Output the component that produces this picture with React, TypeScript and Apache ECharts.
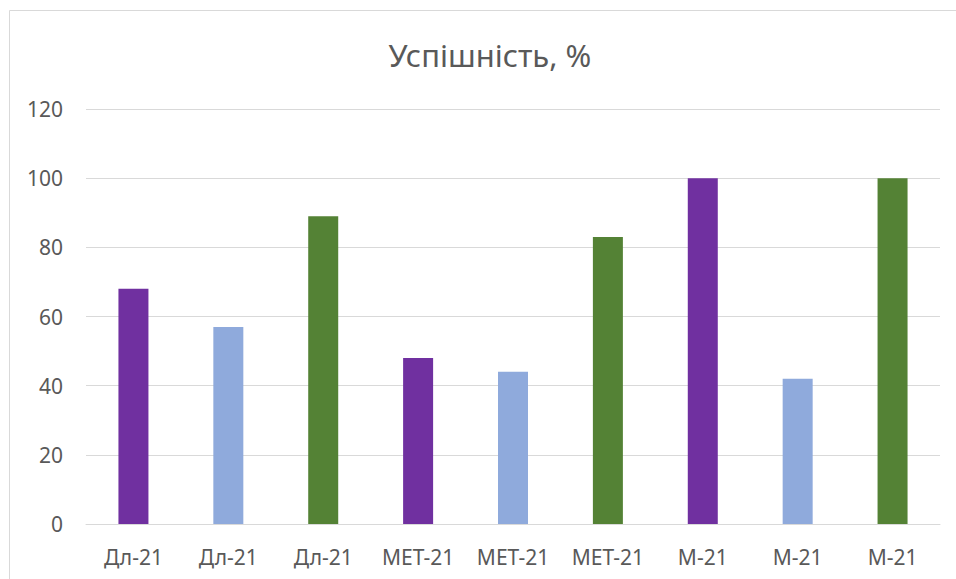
import React, { useEffect, useRef } from "react";
import * as echarts from "echarts";

const categories = ["Дл-21", "Дл-21", "Дл-21", "МЕТ-21", "МЕТ-21", "МЕТ-21", "М-21", "М-21", "М-21"];
const values = [68, 57, 89, 48, 44, 83, 100, 42, 100];
const barColors = ["#7030A0", "#8FAADC", "#548235", "#7030A0", "#8FAADC", "#548235", "#7030A0", "#8FAADC", "#548235"];
const title = "Успішність, %";

export default function App() {
  const ref = useRef<HTMLDivElement>(null);
  useEffect(() => {
    const chart = echarts.init(ref.current!, null, { renderer: "svg" });
    chart.setOption({
      animation: false,
      backgroundColor: "#ffffff",
      textStyle: { fontFamily: "Noto Sans" },
      graphic: [
        {
          type: "rect",
          shape: { x: 9.5, y: 10.5, width: 960, height: 600 },
          style: { fill: "none", stroke: "#d9d9d9", lineWidth: 1 },
          silent: true,
        },
        {
          type: "text",
          x: 490,
          y: 55,
          style: {
            text: title,
            align: "center",
            verticalAlign: "middle",
            fontSize: 31,
            fontFamily: "Noto Sans",
            fill: "#595959",
          },
          silent: true,
        },
      ],
      grid: { left: 86, right: 16, top: 109, bottom: 55, containLabel: false },
      xAxis: {
        type: "category",
        data: categories,
        axisLine: { lineStyle: { color: "#d9d9d9", width: 1 } },
        axisTick: { show: false },
        axisLabel: { color: "#595959", fontSize: 21, margin: 22, interval: 0 },
      },
      yAxis: {
        type: "value",
        min: 0,
        max: 120,
        interval: 20,
        axisLine: { show: false },
        axisTick: { show: false },
        axisLabel: { color: "#595959", fontSize: 21, margin: 23 },
        splitLine: { lineStyle: { color: "#d9d9d9", width: 1 } },
      },
      series: [
        {
          type: "bar",
          barWidth: 30,
          data: values.map((v, i) => ({ value: v, itemStyle: { color: barColors[i] } })),
        },
      ],
    });
    return () => chart.dispose();
  }, []);
  return <div ref={ref} style={{ position: "fixed", left: 0, top: 0, width: 956, height: 579 }} />;
}
